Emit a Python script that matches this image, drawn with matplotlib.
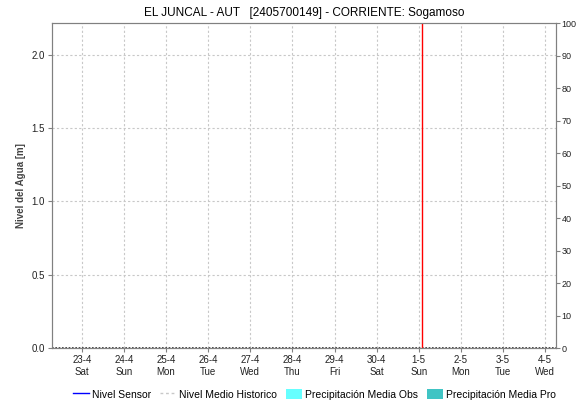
import matplotlib
matplotlib.use("Agg")
import matplotlib.pyplot as plt
from matplotlib.lines import Line2D
from matplotlib.patches import Patch
import pandas as pd

# data
day_ticks = pd.date_range("2022-04-23", "2022-05-04", freq="D")
x_start = pd.Timestamp("2022-04-22 07:00")
x_end = pd.Timestamp("2022-05-04 06:10")
now_marker = pd.Timestamp("2022-05-01 02:05")
hist_x = [x_start, x_end]
hist_y = [0.0, 0.0]
level_ticks = [0.0, 0.5, 1.0, 1.5, 2.0]
rain_ticks = list(range(0, 101, 10))

plt.rcParams["font.family"] = ["Liberation Sans", "DejaVu Sans"]

fig = plt.figure(figsize=(5.77, 4.05), dpi=100)
ax = fig.add_axes([0.0901, 0.1407, 0.8735, 0.8025])
ax2 = ax.twinx()

ax.plot(hist_x, hist_y, color="#333333", linestyle=(0, (1, 1)), linewidth=1.2, zorder=3)
ax.axvline(now_marker, color="red", linewidth=1.0, zorder=4)

ax.set_xlim(x_start, x_end)
ax.set_ylim(0, 2.218)
ax2.set_ylim(0, 100)

ax.set_xticks(day_ticks)
ax.set_xticklabels([f"{d.day}-{d.month}\n{d.strftime('%a')}" for d in day_ticks], fontsize=7)
ax.set_yticks(level_ticks)
ax.set_yticklabels([f"{v:.1f}" for v in level_ticks], fontsize=7)
ax2.set_yticks(rain_ticks)
ax2.set_yticklabels([str(v) for v in rain_ticks], fontsize=6.5)

ax.grid(True, color="#c8c8c8", linestyle=(0, (2, 2)), linewidth=0.8)
for a in (ax, ax2):
    for s in a.spines.values():
        s.set_color("#808080")
    a.tick_params(colors="#808080", labelcolor="#222222", length=3, width=0.8, pad=2)
ax2.tick_params(pad=1)

ax.set_ylabel("Nivel del Agua [m]", fontsize=7, fontweight="bold", color="#444444", labelpad=4)
ax.set_title("EL JUNCAL - AUT   [2405700149] - CORRIENTE: Sogamoso", fontsize=8.5, pad=5)

handles = [
    Line2D([0], [0], color="blue", linewidth=1.0),
    Line2D([0], [0], color="#c8c8c8", linestyle=(0, (2, 2)), linewidth=1.0),
    Patch(facecolor="#66ffff", edgecolor="none"),
    Patch(facecolor="#40c4c4", edgecolor="none"),
]
labels = ["Nivel Sensor", "Nivel Medio Historico", "Precipitación Media Obs", "Precipitación Media Pro"]
fig.legend(handles, labels, loc="lower center", bbox_to_anchor=(0.545, -0.01), ncol=4, frameon=False,
           fontsize=7.5, handlelength=1.5, handletextpad=0.3, columnspacing=0.9, handleheight=1.2)

fig.savefig("out.png", dpi=100)
